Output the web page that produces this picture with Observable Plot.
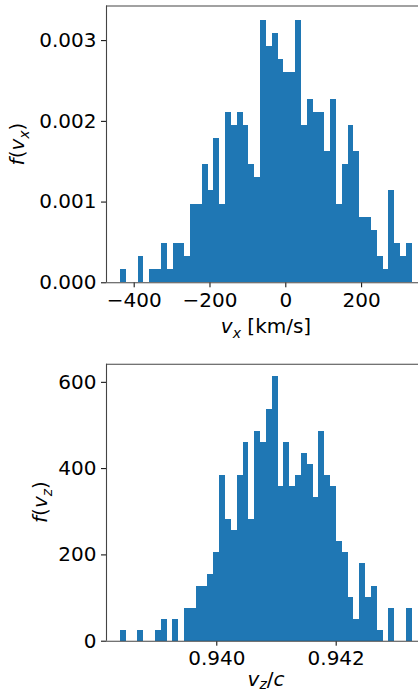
<!DOCTYPE html>
<html><head><meta charset="utf-8">
<script src="https://cdn.jsdelivr.net/npm/d3@7"></script>
<script src="https://cdn.jsdelivr.net/npm/@observablehq/plot@0.6"></script>
<style>
html,body{margin:0;padding:0;background:#fff;}
#chart svg{display:block;}
</style>
</head><body><div id="chart"></div>
<script>
// ---- data (histogram counts, 50 bins, 400 samples) ----
const sampleCount = 400;
const vxCounts = [1,0,0,2,0,1,1,3,1,3, 3,2,6,6,9,7,11,6,13,12, 13,12,9,8,20,18,19,17,16,16, 20,12,14,13,13,10,14,6,9,12, 10,5,5,4,2,1,7,3,2,3];
const vxBinStart = -435.9;
const vxBinWidth = 15.384;
const vzCounts = [1,0,0,1,0,0,1,2,0,2, 0,3,3,5,5,6,8,15,11,10, 15,18,11,19,18,21,24,14,18,14, 15,17,16,13,19,15,14,9,8,4, 2,7,4,5,1,0,3,0,0,3];
const vzBinStart = 0.938386;
const vzBinWidth = 0.00009776;
const vxTicks = [-400, -200, 0, 200];
const vxDensityTicks = [0, 0.001, 0.002, 0.003];
const vzTicks = [0.940, 0.942];
const vzDensityTicks = [0, 200, 400, 600];

const barColor = "#1f77b4";
const font = "DejaVu Sans";
const fs = 20;

function bins(counts, start, width) {
  return counts.map((c, i) => ({
    x1: start + i * width,
    x2: start + (i + 1) * width,
    y: c / (sampleCount * width)
  }));
}

const minusFmt = d => (d < 0 ? "\u2212" + Math.abs(d) : String(d));

function panel(o) {
  return Plot.plot({
    width: 418,
    height: o.height,
    marginLeft: 106,
    marginRight: 0,
    marginTop: o.mt,
    marginBottom: o.mb,
    style: {fontSize: fs + "px", fontFamily: font, color: "black", background: "white", overflow: "visible"},
    x: {domain: o.xDomain, ticks: o.xTicks, tickFormat: o.xFmt, tickSize: 5, tickPadding: 5, label: null},
    y: {domain: o.yDomain, ticks: o.yTicks, tickFormat: o.yFmt, tickSize: 5, tickPadding: 5, label: null},
    marks: [
      Plot.rectY(o.data, {x1: "x1", x2: "x2", y: "y", fill: barColor, shapeRendering: "crispEdges"}),
      Plot.ruleX([o.xDomain[0]], {stroke: "#444", strokeWidth: 1.1}),
      Plot.ruleY([o.yDomain[1]], {stroke: "#444", strokeWidth: 1.1}),
      Plot.ruleY([0], {stroke: "#444", strokeWidth: 1.1})
    ]
  });
}

function mathLabel(svg, parts, x, y, rotate, subShift = 5) {
  const t = d3.select(svg).append("text")
    .attr("text-anchor", "middle")
    .attr("font-family", font)
    .attr("font-size", fs)
    .attr("fill", "black")
    .attr("transform", `translate(${x},${y})` + (rotate ? " rotate(-90)" : ""));
  let shifted = 0;
  for (const p of parts) {
    const ts = t.append("tspan").text(p.t);
    if (p.italic) ts.attr("font-style", "oblique");
    const target = p.sub ? subShift : 0;
    if (target !== shifted) { ts.attr("dy", target - shifted); shifted = target; }
    if (p.sub) ts.attr("font-size", 14);
  }
}

const topPanel = panel({
  data: bins(vxCounts, vxBinStart, vxBinWidth),
  height: 345, mt: 5.5, mb: 62.7,
  xDomain: [-473.0, 350.0], yDomain: [0, 0.003429],
  xTicks: vxTicks, yTicks: vxDensityTicks,
  xFmt: minusFmt, yFmt: d3.format(".3f")
});
mathLabel(topPanel, [{t: "f", italic: true}, {t: "("}, {t: "v", italic: true}, {t: "x", italic: true, sub: true}, {t: ")"}], 24.4, 144, true);
mathLabel(topPanel, [{t: "v", italic: true}, {t: "x", italic: true, sub: true}, {t: " [km/s]"}], 266, 333, false);

const bottomPanel = panel({
  data: bins(vzCounts, vzBinStart, vzBinWidth),
  height: 348, mt: 18.7, mb: 52.3,
  xDomain: [0.938152, 0.943379], yDomain: [0, 642],
  xTicks: vzTicks, yTicks: vzDensityTicks,
  xFmt: d3.format(".3f"), yFmt: d => String(d)
});
mathLabel(bottomPanel, [{t: "f", italic: true}, {t: "("}, {t: "v", italic: true}, {t: "z", italic: true, sub: true}, {t: ")"}], 47.4, 157, true);
mathLabel(bottomPanel, [{t: "v", italic: true}, {t: "z", italic: true, sub: true}, {t: "/"}, {t: "c", italic: true}], 266, 341, false, 2.5);

document.getElementById("chart").append(topPanel, bottomPanel);
</script>
</body></html>
